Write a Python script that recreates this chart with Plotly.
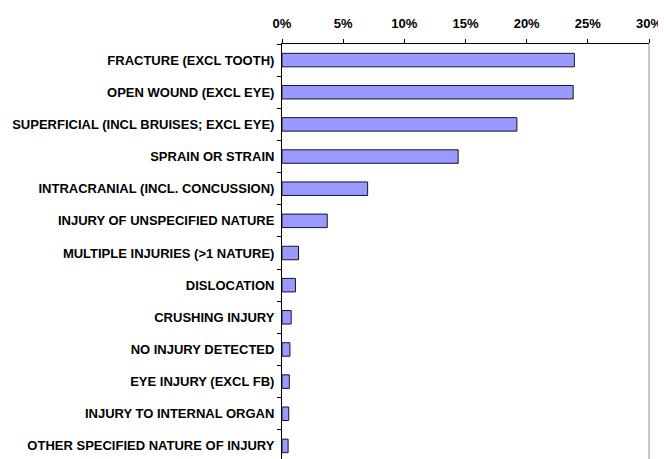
import plotly.graph_objects as go

categories = [
    "FRACTURE (EXCL TOOTH)",
    "OPEN WOUND (EXCL EYE)",
    "SUPERFICIAL (INCL BRUISES; EXCL EYE)",
    "SPRAIN OR STRAIN",
    "INTRACRANIAL (INCL. CONCUSSION)",
    "INJURY OF UNSPECIFIED NATURE",
    "MULTIPLE INJURIES (>1 NATURE)",
    "DISLOCATION",
    "CRUSHING INJURY",
    "NO INJURY DETECTED",
    "EYE INJURY (EXCL FB)",
    "INJURY TO INTERNAL ORGAN",
    "OTHER SPECIFIED NATURE OF INJURY",
]
percent = [23.9, 23.8, 19.2, 14.4, 7.0, 3.7, 1.35, 1.1, 0.75, 0.65, 0.6, 0.55, 0.5]
x_ticks = [0, 5, 10, 15, 20, 25, 30]
x_tick_labels = [f"{v}%" for v in x_ticks]

lab_font = dict(family="Arial, Liberation Sans, sans-serif", size=13,
                color="black", weight="bold")

fig = go.Figure()
fig.add_trace(go.Bar(
    x=percent, y=categories, orientation="h",
    marker=dict(color="#9999ff", line=dict(color="#14142a", width=1)),
    width=0.42, hoverinfo="skip",
))

fig.update_xaxes(
    side="top", range=[0, 30], tickvals=x_ticks, ticktext=x_tick_labels,
    showgrid=False, zeroline=False, showline=True, linecolor="black", linewidth=1,
    ticks="outside", ticklen=4, tickcolor="black", ticklabelstandoff=6,
    tickfont=lab_font,
)
fig.update_yaxes(
    autorange="reversed", showgrid=False, showline=True, linecolor="black", linewidth=1,
    ticks="outside", ticklen=4, tickcolor="black", tickson="boundaries",
    ticklabelstandoff=4, tickfont=lab_font,
)
# light grey frame line on the right side of the plot area
fig.add_shape(type="line", xref="paper", yref="paper", x0=1, x1=1, y0=0, y1=1,
              line=dict(color="#c8c8c8", width=2))

fig.update_layout(
    width=666, height=459,
    margin=dict(l=274, r=25, t=36, b=5),
    plot_bgcolor="white", paper_bgcolor="white",
    font=lab_font, showlegend=False,
)

fig.write_html("out.html")
